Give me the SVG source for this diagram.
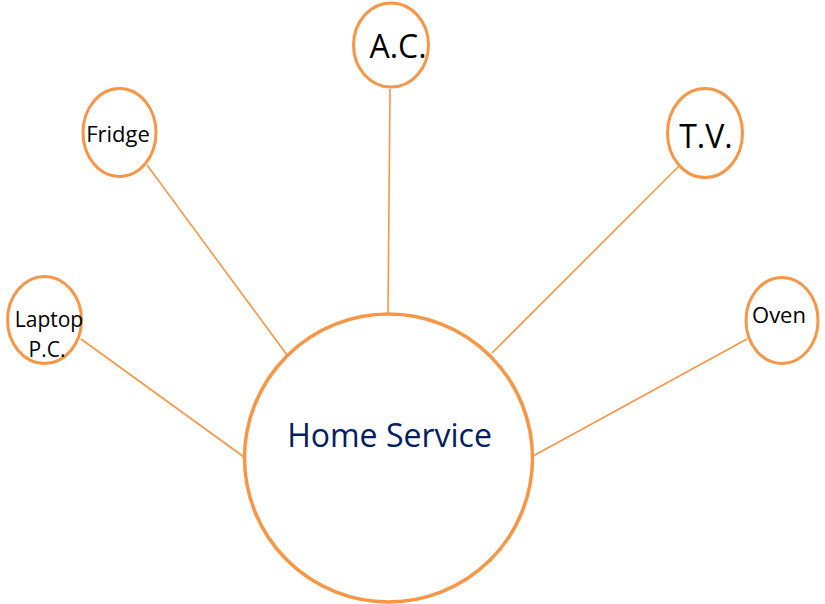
<svg xmlns="http://www.w3.org/2000/svg" width="825" height="604" viewBox="0 0 825 604">
<style>
.node{fill:#fff;stroke:#F79646;stroke-width:3}
.hub{fill:#fff;stroke:#F79646;stroke-width:3.5}
.conn line{stroke:#F79646;stroke-width:1.6;fill:none}
text{font-family:"Open Sans","Noto Sans","Liberation Sans",sans-serif;fill:#000;text-anchor:middle}
.hubt{fill:#002060;font-size:32px}
</style>
<rect width="825" height="604" fill="#fff"/>
<g class="conn" id="connectors">
<line x1="390" y1="89" x2="388" y2="313"/>
<line x1="147" y1="165" x2="287" y2="355"/>
<line x1="679" y1="166" x2="492" y2="353"/>
<line x1="81" y1="339" x2="244" y2="457"/>
<line x1="747" y1="339" x2="533" y2="456"/>
</g>
<g id="home-service">
<circle class="hub" cx="388.5" cy="458" r="144"/>
<text class="hubt" x="389.5" y="447">Home Service</text>
</g>
<g id="ac">
<ellipse class="node" cx="391" cy="45" rx="37.5" ry="42"/>
<text x="398" y="58" font-size="32">A.C.</text>
</g>
<g id="fridge">
<ellipse class="node" cx="119.5" cy="132.5" rx="36.5" ry="44"/>
<text x="118" y="142" font-size="22">Fridge</text>
</g>
<g id="tv">
<ellipse class="node" cx="705" cy="133" rx="37.5" ry="44.5"/>
<text x="706" y="148" font-size="32">T.V.</text>
</g>
<g id="laptop">
<ellipse class="node" cx="44.5" cy="320" rx="37" ry="43.5"/>
<text x="49" y="327" font-size="21">Laptop</text>
<text x="47" y="357" font-size="21">P.C.</text>
</g>
<g id="oven">
<ellipse class="node" cx="782" cy="320.5" rx="36" ry="43"/>
<text x="779" y="323" font-size="22">Oven</text>
</g>
</svg>
